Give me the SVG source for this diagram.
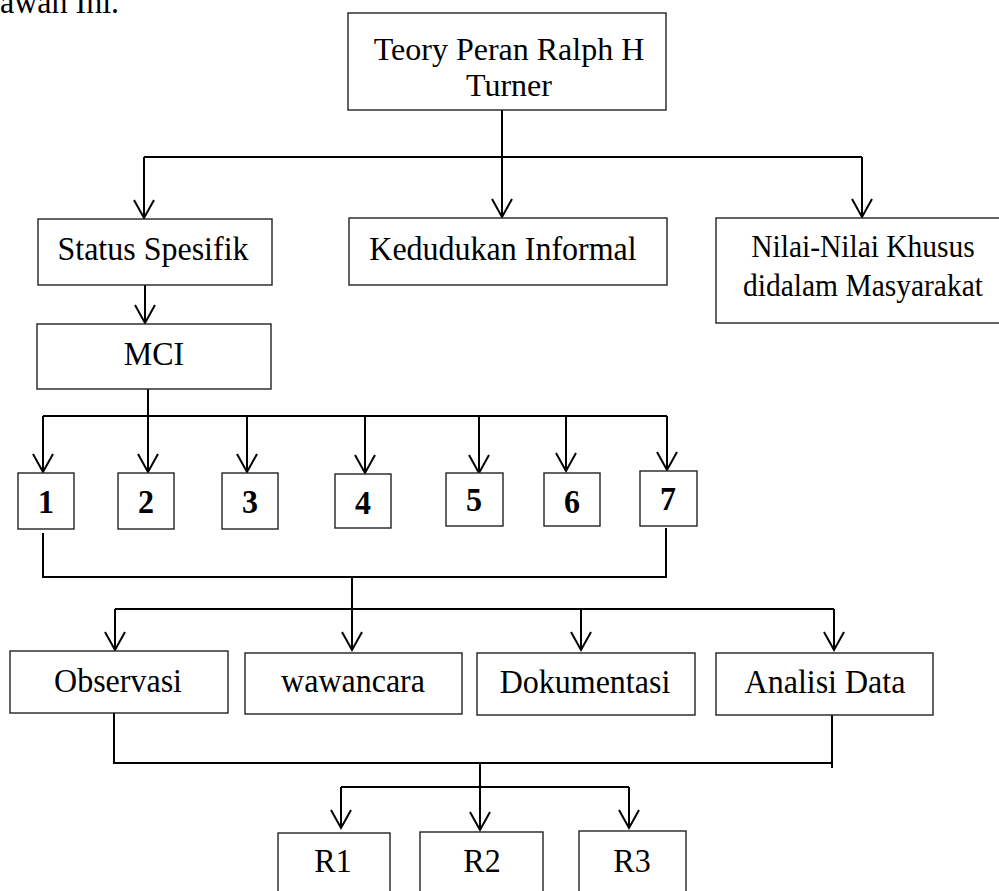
<svg xmlns="http://www.w3.org/2000/svg" width="999" height="891" viewBox="0 0 999 891">
<defs>
<marker id="ah" markerUnits="userSpaceOnUse" markerWidth="24" markerHeight="26" viewBox="-21 -13 24 26" refX="0" refY="0" orient="auto">
<path d="M-18,-10 L0,0 L-18,10" fill="none" stroke="#000" stroke-width="2"/>
</marker>
<style>
rect{fill:#fff;stroke:#222;stroke-width:1.4}
text{font-family:"Liberation Serif","Times New Roman",serif;font-size:32px;fill:#000;text-anchor:middle}
.b{font-weight:bold}
.s{font-size:29.5px}
#connectors path{fill:none;stroke:#000;stroke-width:2}
.a{marker-end:url(#ah)}
</style>
</defs>
<rect width="999" height="891" style="fill:#fff;stroke:none"/>
<text transform="translate(0,13) scale(1,1.08)" style="text-anchor:start">awan Ini.</text>
<g id="connectors">
<path class="a" d="M502,110 V217"/>
<path d="M144,157 H862"/>
<path class="a" d="M144,157 V218"/>
<path class="a" d="M862,157 V217"/>
<path class="a" d="M145,285 V323"/>
<path class="a" d="M148,389 V472"/>
<path d="M43,416 H667"/>
<path class="a" d="M43,416 V472"/>
<path class="a" d="M247,416 V472"/>
<path class="a" d="M365,416 V473"/>
<path class="a" d="M479,416 V473"/>
<path class="a" d="M566,416 V471"/>
<path class="a" d="M667,416 V470"/>
<path d="M43,533 V577 H666 V528"/>
<path class="a" d="M352,577 V650"/>
<path d="M115,609 H834"/>
<path class="a" d="M115,609 V650"/>
<path class="a" d="M581,609 V650"/>
<path class="a" d="M834,609 V650"/>
<path d="M114,713 V763 H832"/>
<path d="M832,715 V768"/>
<path class="a" d="M480,763 V830"/>
<path d="M341,787 H629"/>
<path class="a" d="M341,787 V828"/>
<path class="a" d="M629,787 V828"/>
</g>
<g id="n-teory"><rect x="348" y="13" width="318" height="97"/><text x="509" y="60">Teory Peran Ralph H</text><text x="509" y="96">Turner</text></g>
<g id="n-status"><rect x="38" y="219" width="234" height="66"/><text transform="translate(153,260) scale(1,1.08)">Status Spesifik</text></g>
<g id="n-kedudukan"><rect x="349" y="218" width="318" height="67"/><text transform="translate(503,260) scale(1,1.08)">Kedudukan Informal</text></g>
<g id="n-nilai"><rect x="716" y="218" width="290" height="105"/><text class="s" transform="translate(863,257) scale(1,1.08)">Nilai-Nilai Khusus</text><text class="s" transform="translate(863,296) scale(1,1.08)">didalam Masyarakat</text></g>
<g id="n-mci"><rect x="37" y="324" width="234" height="65"/><text transform="translate(154,365) scale(1,1.08)">MCI</text></g>
<g id="n-1"><rect x="18" y="473" width="56" height="56"/><text class="b" transform="translate(46,513) scale(1,1.08)">1</text></g>
<g id="n-2"><rect x="118" y="473" width="56" height="56"/><text class="b" transform="translate(146,513) scale(1,1.08)">2</text></g>
<g id="n-3"><rect x="222" y="473" width="56" height="56"/><text class="b" transform="translate(250,513) scale(1,1.08)">3</text></g>
<g id="n-4"><rect x="335" y="474" width="56" height="54"/><text class="b" transform="translate(363,514) scale(1,1.08)">4</text></g>
<g id="n-5"><rect x="446" y="473" width="57" height="53"/><text class="b" transform="translate(474,511) scale(1,1.08)">5</text></g>
<g id="n-6"><rect x="544" y="473" width="56" height="53"/><text class="b" transform="translate(572,513) scale(1,1.08)">6</text></g>
<g id="n-7"><rect x="640" y="471" width="57" height="55"/><text class="b" transform="translate(668,510) scale(1,1.08)">7</text></g>
<g id="n-observasi"><rect x="10" y="651" width="218" height="62"/><text transform="translate(118,692) scale(1,1.08)">Observasi</text></g>
<g id="n-wawancara"><rect x="245" y="653" width="217" height="61"/><text transform="translate(353,692) scale(1,1.08)">wawancara</text></g>
<g id="n-dokumentasi"><rect x="477" y="653" width="218" height="62"/><text transform="translate(585,693) scale(1,1.08)">Dokumentasi</text></g>
<g id="n-analisi"><rect x="716" y="653" width="217" height="62"/><text transform="translate(825,693) scale(1,1.08)">Analisi Data</text></g>
<g id="n-r1"><rect x="278" y="833" width="112" height="70"/><text transform="translate(333,872) scale(1,1.08)">R1</text></g>
<g id="n-r2"><rect x="420" y="832" width="123" height="70"/><text transform="translate(482,872) scale(1,1.08)">R2</text></g>
<g id="n-r3"><rect x="579" y="831" width="107" height="70"/><text transform="translate(632,872) scale(1,1.08)">R3</text></g>
</svg>
